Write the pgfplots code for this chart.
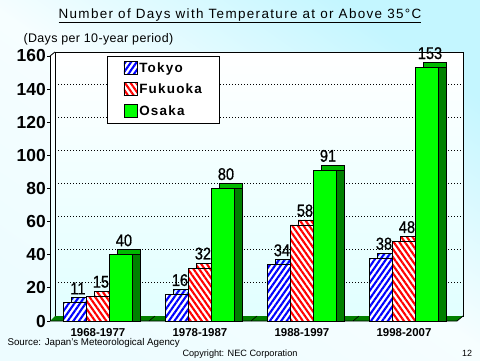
\documentclass[border=0pt]{standalone}
\usepackage{pgfplots}
\pgfplotsset{compat=1.18}
\usepackage{pgfplotstable}
\usepackage{fontspec}
\setmainfont{Liberation Sans}
\newfontfamily\narrowfont[FakeStretch=0.86,FakeBold=0.8]{Liberation Sans}
\usetikzlibrary{patterns.meta}
\definecolor{tkblue}{RGB}{0,0,255}
\definecolor{fkred}{RGB}{255,0,0}
\definecolor{osgreen}{RGB}{0,255,0}
\definecolor{osdark}{RGB}{0,128,0}
\definecolor{ostop}{RGB}{0,185,0}
\definecolor{bgcyan}{RGB}{196,246,255}
\definecolor{tktop}{RGB}{215,245,255}

\pgfplotstableread{
x tokyo fukuoka osaka
0 11 15 40
1 16 32 80
2 34 58 91
3 38 48 153
}\datatable

\pgfplotsset{
  tkstyle/.style={fill=white, draw=black, line width=0.8bp,
    postaction={pattern={Lines[angle=55,distance=4.6bp,line width=2.1bp]}, pattern color=tkblue}},
  fkstyle/.style={fill=white, draw=black, line width=0.8bp,
    postaction={pattern={Lines[angle=-55,distance=4.6bp,line width=2.1bp]}, pattern color=fkred}},
  osstyle/.style={fill=osgreen, draw=black, line width=0.8bp},
  boxlegend/.style={legend image code/.code={\draw[##1] (0bp,-6bp) rectangle (13bp,7bp);}},
}

\begin{document}
\begin{tikzpicture}[x=1bp,y=1bp]
% slide background
\shade[top color=bgcyan, bottom color=white!70!bgcyan, middle color=white!85!bgcyan, shading angle=-35] (0,0) rectangle (480,360);
% back wall and left wall
\shade[top color=white, bottom color=white!88!cyan] (50,39) -- (50,304) -- (55,308) -- (463,308) -- (463,44) -- (55,44) -- cycle;
\foreach \v in {20,40,...,140} {
  \draw[line width=1bp, dash pattern=on 1bp off 2bp] (55,{44+\v*1.65625}) -- (463,{44+\v*1.65625});
}
\draw[line width=0.8bp] (55,44) rectangle (463,308);
\draw[line width=0.8bp] (50,304) -- (55,308);
% floor
\fill[osdark] (50,39) -- (457,39) -- (463,44) -- (55,44) -- cycle;
\draw[line width=0.8bp] (50,39) -- (457,39) -- (463,44);
\foreach \xx in {149,251,353} { \draw[line width=0.6bp] (\xx,39) -- (\xx+6,44); }

% texts
\node[font=\fontsize{13.5}{16}\selectfont\addfontfeature{LetterSpace=10}] at (240,344) {\underline{Number of Days with Temperature at or Above 35\textdegree C}};
\node[anchor=west, font=\fontsize{12.5}{14}\selectfont\addfontfeature{LetterSpace=3}] at (20,321) {(Days per 10-year period)};
\node[anchor=west, font=\fontsize{9.8}{12}\selectfont] at (4,17) {Source: Japan's Meteorological Agency};
\node[font=\fontsize{9.2}{11}\selectfont] at (240,6) {Copyright: NEC Corporation};
\node[font=\fontsize{9}{11}\selectfont] at (467,7) {12};

\begin{axis}[
  at={(50bp,39bp)}, anchor=south west,
  scale only axis, width=405bp, height=265bp,
  xmin=-0.47, xmax=3.5, ymin=0, ymax=160,
  clip=false,
  axis y line*=left, axis x line*=bottom,
  x axis line style={draw=none},
  y axis line style={line width=0.8bp},
  xtick={0,1,2,3},
  xticklabels={1968-1977,1978-1987,1988-1997,1998-2007},
  xtick style={draw=none},
  xticklabel style={font=\bfseries\fontsize{11.5}{12}\selectfont, inner sep=1bp, yshift=-3bp},
  ytick={0,20,...,160},
  tick align=outside,
  major tick length=3bp,
  ytick style={line width=0.8bp, black},
  yticklabel style={font=\bfseries\fontsize{17.5}{18}\selectfont, inner sep=1bp},
  /pgf/number format/assume math mode=true,
  legend style={at={(0.141,1.0)}, anchor=north west, draw=black, line width=0.8bp,
    fill=white, font=\bfseries\fontsize{13.5}{14}\selectfont\addfontfeature{LetterSpace=9},
    inner xsep=16bp, inner ysep=4bp, row sep=6.5bp},
  legend cell align=left,
  every node near coord/.append style={font=\narrowfont\fontsize{17}{18}\selectfont, inner sep=0pt, anchor=south, xshift=3bp, yshift=8bp, text=black},
]
% Tokyo
\addplot[ybar, bar width=23bp, bar shift=-23bp, xshift=8bp, yshift=5bp, forget plot,
  fill=tktop, draw=black, line width=0.8bp,
  postaction={pattern={Lines[angle=55,distance=4.6bp,line width=2.1bp]}, pattern color=tkblue}]
  table[x=x,y=tokyo]{\datatable};
\addplot[ybar, bar width=23bp, bar shift=-23bp, tkstyle, boxlegend,
  nodes near coords, nodes near coords style={xshift=-23bp}]
  table[x=x,y=tokyo]{\datatable};
% Fukuoka
\addplot[ybar, bar width=23bp, bar shift=0bp, xshift=8bp, yshift=5bp, forget plot, fkstyle]
  table[x=x,y=fukuoka]{\datatable};
\addplot[ybar, bar width=23bp, bar shift=0bp, fkstyle, boxlegend,
  nodes near coords]
  table[x=x,y=fukuoka]{\datatable};
% Osaka
\addplot[ybar, bar width=23bp, bar shift=23bp, xshift=8bp, yshift=5bp, forget plot,
  fill=ostop, draw=black, line width=0.8bp]
  table[x=x,y=osaka]{\datatable};
\addplot[ybar, bar width=23bp, bar shift=23bp, xshift=8bp, forget plot,
  fill=osdark, draw=black, line width=0.8bp]
  table[x=x,y=osaka]{\datatable};
\addplot[ybar, bar width=23bp, bar shift=23bp, osstyle, boxlegend,
  nodes near coords, nodes near coords style={xshift=23bp}]
  table[x=x,y=osaka]{\datatable};
\legend{Tokyo,Fukuoka,Osaka}
\end{axis}
\end{tikzpicture}
\end{document}
